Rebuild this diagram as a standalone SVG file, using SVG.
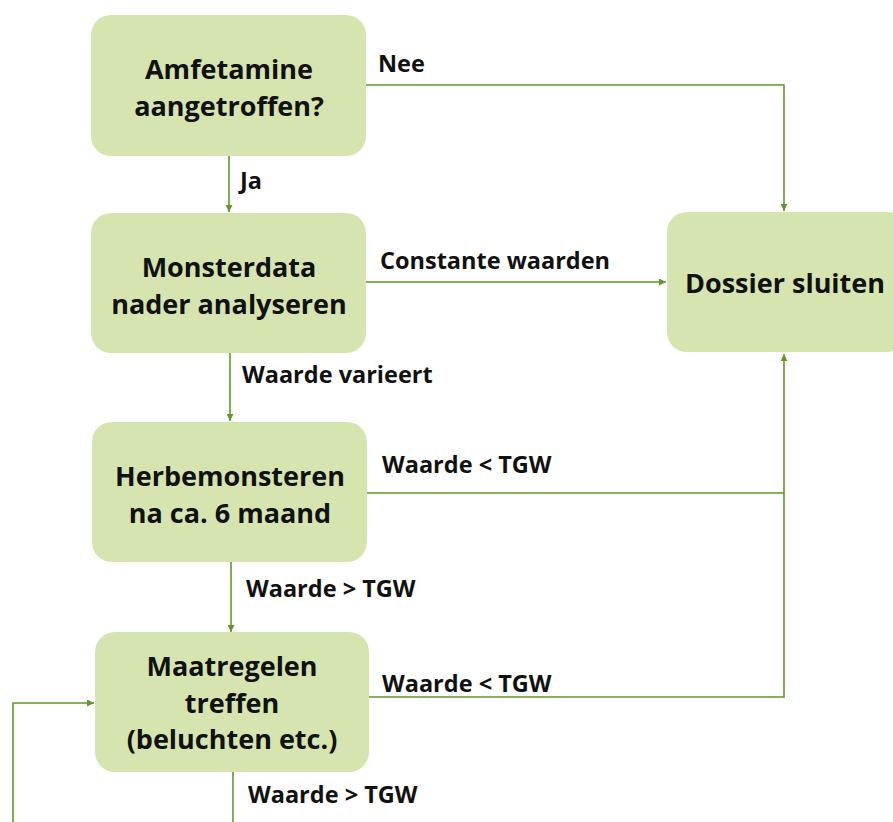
<svg xmlns="http://www.w3.org/2000/svg" width="893" height="822" viewBox="0 0 893 822">
<style>
.box{fill:#d6e5b0;}
.nt{font-family:"Open Sans","Liberation Sans",sans-serif;font-weight:bold;font-size:27px;fill:#111;text-anchor:middle;}
.lb{font-family:"Open Sans","Liberation Sans",sans-serif;font-weight:bold;font-size:23.5px;fill:#111;}
.ln{fill:none;stroke:#62962a;stroke-width:1.6;}
</style>
<defs>
<marker id="ah" viewBox="0 0 10 10" refX="10" refY="5" markerWidth="7" markerHeight="7" orient="auto" markerUnits="userSpaceOnUse">
<path d="M0,0 L10,5 L0,10 z" fill="#62962a"/>
</marker>
</defs>
<rect width="893" height="822" fill="#fff"/>
<g id="connectors">
<path class="ln" d="M366,85 H784 V211" marker-end="url(#ah)"/>
<path class="ln" d="M229,156 V212" marker-end="url(#ah)"/>
<path class="ln" d="M366,282 H666" marker-end="url(#ah)"/>
<path class="ln" d="M230,353 V421" marker-end="url(#ah)"/>
<path class="ln" d="M367,493 H784"/>
<path class="ln" d="M231,562 V632" marker-end="url(#ah)"/>
<path class="ln" d="M369,697 H784 V354" marker-end="url(#ah)"/>
<path class="ln" d="M233,772 V822"/>
<path class="ln" d="M13,822 V703 H94" marker-end="url(#ah)"/>
<text class="lb" x="378" y="72">Nee</text>
<text class="lb" x="240" y="189">Ja</text>
<text class="lb" x="380" y="269">Constante waarden</text>
<text class="lb" x="242" y="383">Waarde varieert</text>
<text class="lb" x="382" y="473">Waarde &lt; TGW</text>
<text class="lb" x="246" y="597">Waarde &gt; TGW</text>
<text class="lb" x="382" y="692">Waarde &lt; TGW</text>
<text class="lb" x="248" y="803">Waarde &gt; TGW</text>
</g>
<g id="n1">
<rect class="box" x="91" y="15" width="275" height="141" rx="20"/>
<text class="nt" x="229" y="79">Amfetamine</text>
<text class="nt" x="229" y="116">aangetroffen?</text>
</g>
<g id="n2">
<rect class="box" x="91" y="213" width="275" height="140" rx="20"/>
<text class="nt" x="229" y="277">Monsterdata</text>
<text class="nt" x="229" y="314">nader analyseren</text>
</g>
<g id="n3">
<rect class="box" x="92" y="422" width="275" height="140" rx="20"/>
<text class="nt" x="230" y="486">Herbemonsteren</text>
<text class="nt" x="230" y="523">na ca. 6 maand</text>
</g>
<g id="n4">
<rect class="box" x="95" y="632" width="274" height="140" rx="20"/>
<text class="nt" x="232" y="676">Maatregelen</text>
<text class="nt" x="232" y="713">treffen</text>
<text class="nt" x="232" y="749">(beluchten etc.)</text>
</g>
<g id="n5">
<rect class="box" x="667" y="212" width="240" height="140" rx="20"/>
<text class="nt" x="785" y="293">Dossier sluiten</text>
</g>
</svg>
